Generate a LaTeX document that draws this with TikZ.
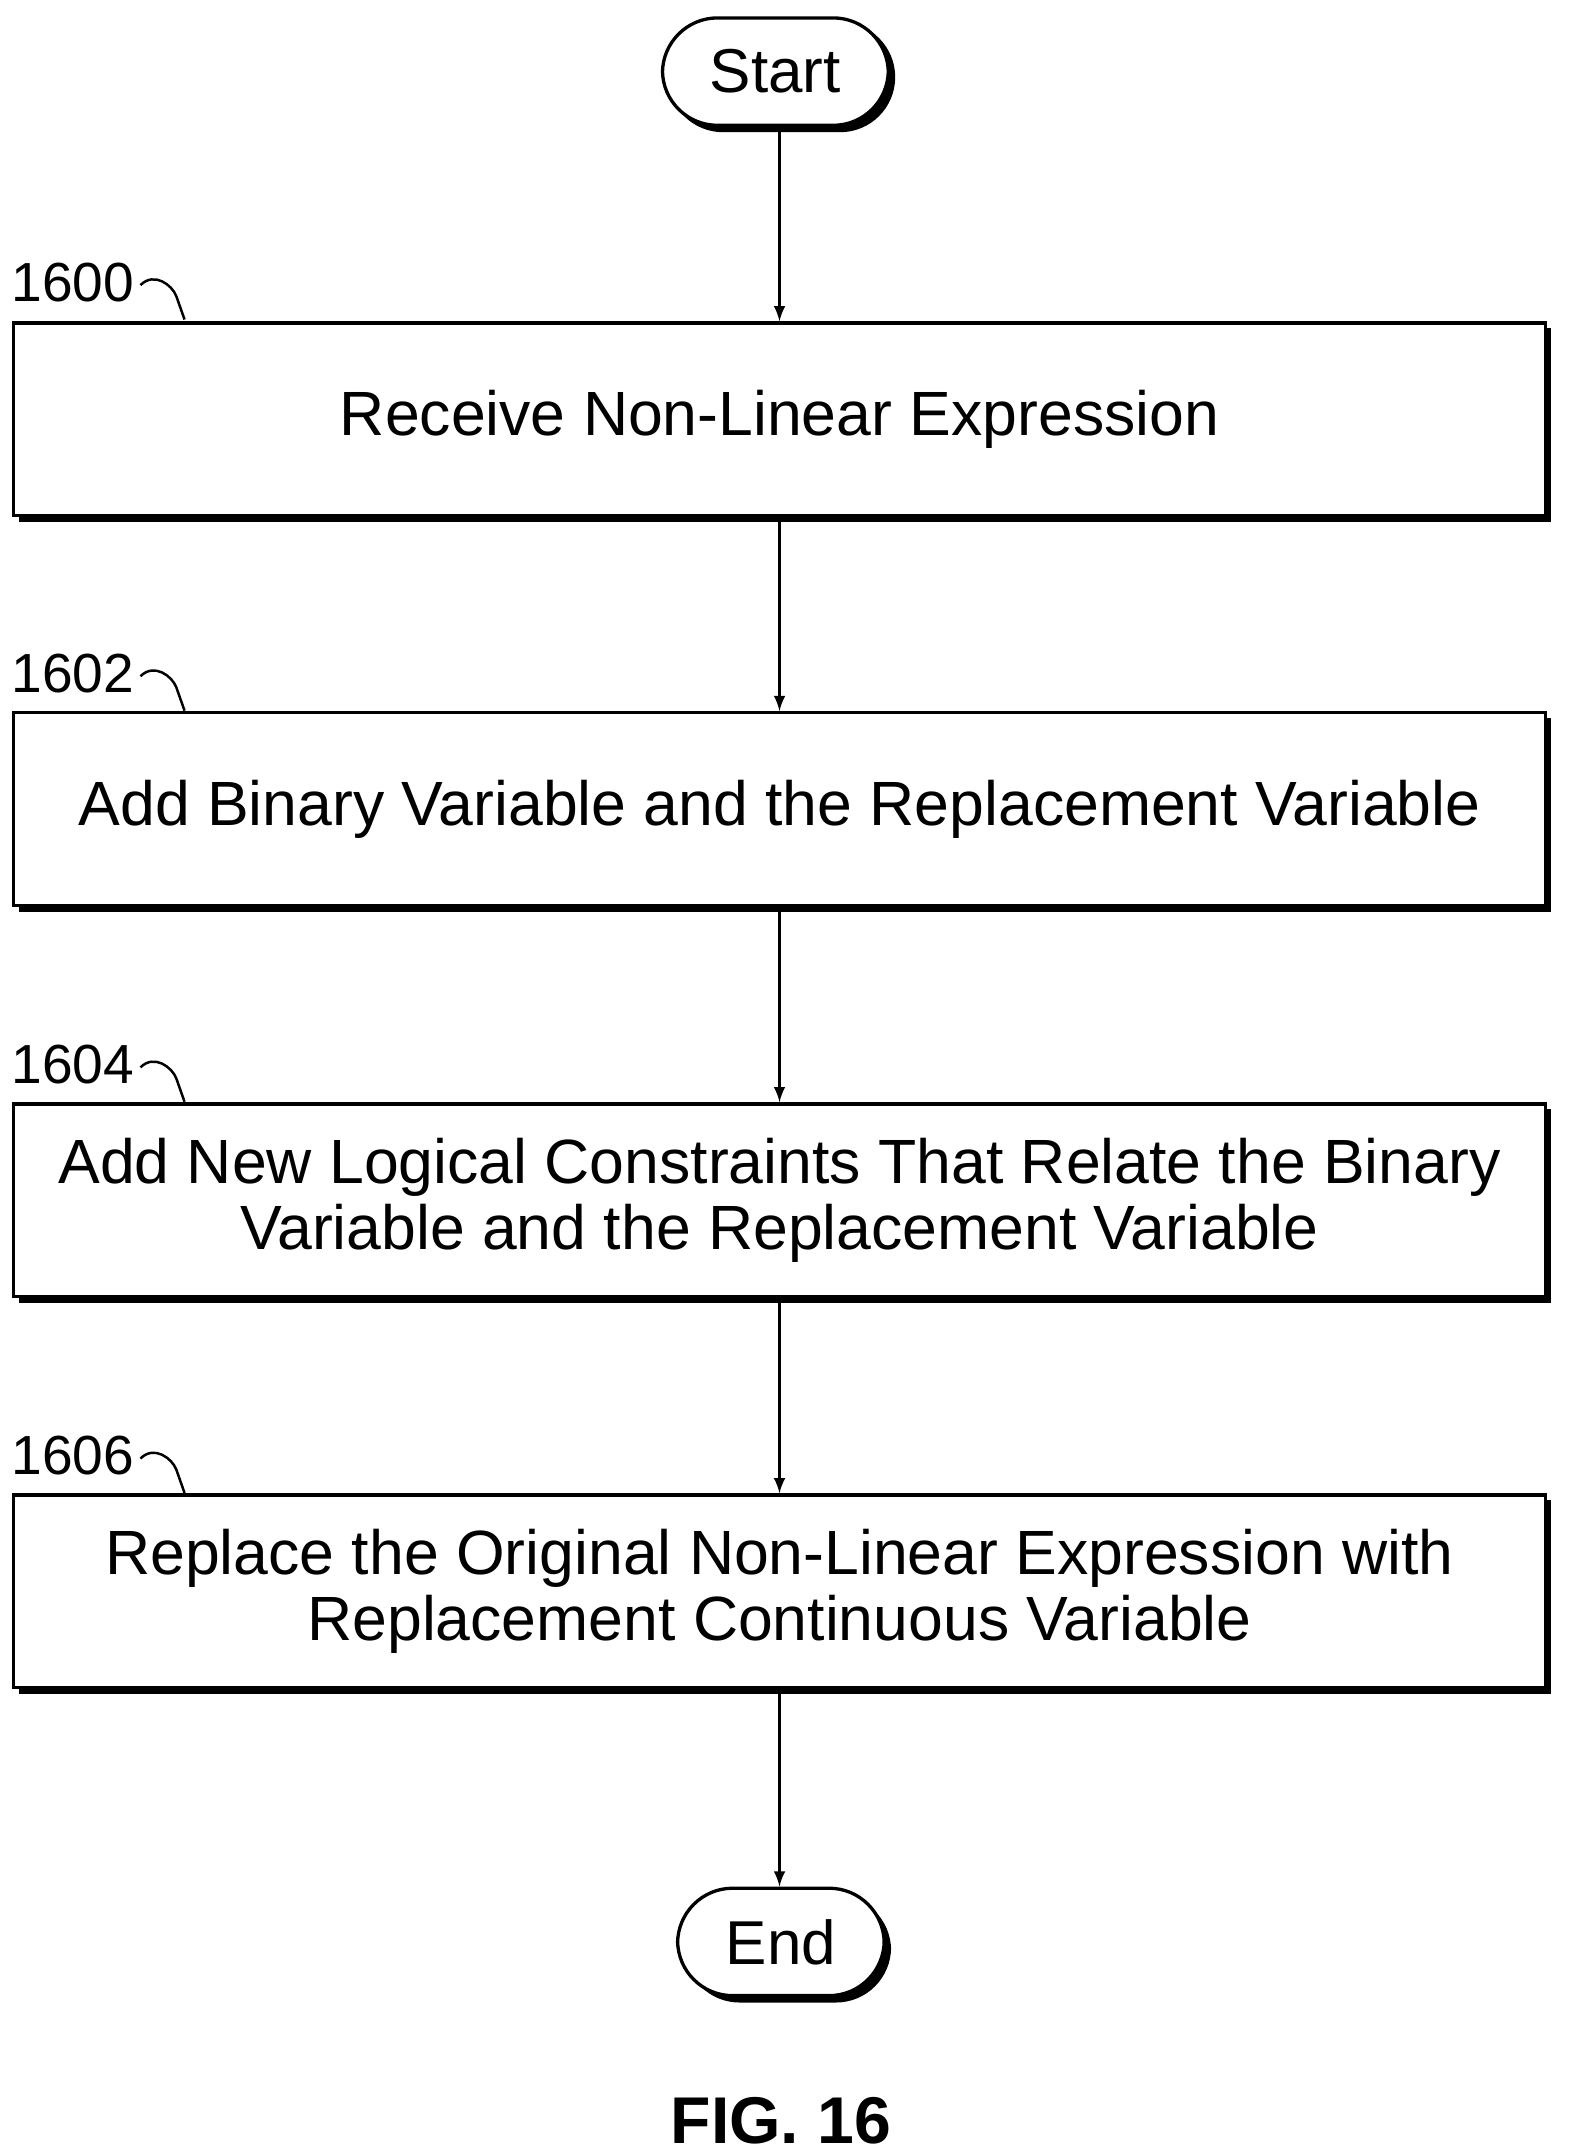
\documentclass[tikz,border=0pt]{standalone}
\usepackage{fontspec}
\setmainfont{Liberation Sans}
\begin{document}
\begin{tikzpicture}[x=0.5pt,y=-0.5pt,
 box/.style={draw,line width=1.2pt,minimum width=556pt,minimum height=70pt,align=center,font=\fontsize{22.7}{24}\selectfont,fill=white},
 term/.style={draw,line width=1.2pt,rounded corners=20pt,minimum height=39pt,font=\fontsize{22.5}{26}\selectfont,fill=white},
 arr/.style={-latex,line width=0.9pt},
 lab/.style={font=\fontsize{20}{22}\selectfont,anchor=center}]
\useasboundingbox (0,0) rectangle (1140,1564);
% shadows
\fill[rounded corners=20pt] (485,16) rectangle (650,96);
\fill[rounded corners=20pt] (497,1376) rectangle (647,1454);
\foreach \y in {234,517,801,1085} \fill (14,\y+4) rectangle (1126,\y+145);
\node[term,minimum width=82pt] (start) at (563,52) {Start};
\node[term,minimum width=75pt] (end) at (567,1410) {End};
\node[box] (b1) at (566,304.5) {Receive Non-Linear Expression};
\node[box] (b2) at (566,587.5) {Add Binary Variable and the Replacement Variable};
\node[box] (b3) at (566,871.5) {Add New Logical Constraints That Relate the Binary\\Variable and the Replacement Variable};
\node[box] (b4) at (566,1155.5) {Replace the Original Non-Linear Expression with\\Replacement Continuous Variable};
\draw[arr] (start.south -| 566,0) -- (b1.north);
\draw[arr] (b1) -- (b2);
\draw[arr] (b2) -- (b3);
\draw[arr] (b3) -- (b4);
\draw[arr] (b4.south) -- (b4.south |- end.north);
\foreach \n/\y in {1600/205,1602/489,1604/773,1606/1057}{
 \node[lab] (l\n) at (53,\y) {\n};
 \draw[line width=0.9pt] (102,\y+2) .. controls (112,\y-8) and (125,\y+2) .. (128,\y+10) -- (134,\y+27);
}
\node[font=\bfseries\fontsize{24}{26}\selectfont] (fig) at (567,1540) {FIG. 16};
\end{tikzpicture}
\end{document}
